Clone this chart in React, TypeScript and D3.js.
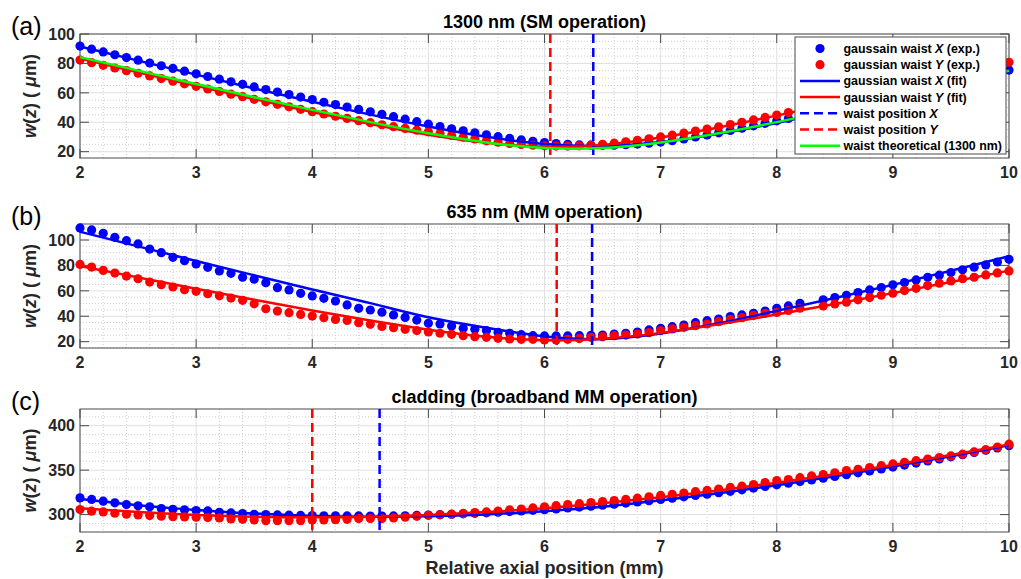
import React from 'react';
import * as d3 from 'd3';

// ---------- data ----------
const zPos = [2.0,2.1,2.2,2.3,2.4,2.5,2.6,2.7,2.8,2.9,3.0,3.1,3.2,3.3,3.4,3.5,3.6,3.7,3.8,3.9,4.0,4.1,4.2,4.3,4.4,4.5,4.6,4.7,4.8,4.9,5.0,5.1,5.2,5.3,5.4,5.5,5.6,5.7,5.8,5.9,6.0,6.1,6.2,6.3,6.4,6.5,6.6,6.7,6.8,6.9,7.0,7.1,7.2,7.3,7.4,7.5,7.6,7.7,7.8,7.9,8.0,8.1,8.2,8.3,8.4,8.5,8.6,8.7,8.8,8.9,9.0,9.1,9.2,9.3,9.4,9.5,9.6,9.7,9.8,9.9,10.0];
const fitZ = [2,2.5,3,3.5,4,4.5,5,5.5,6,6.5,7,7.5,8,8.5,9,9.5,10];

// (a) 1300 nm
const aBlueExp = [91.8,89.7,87.8,85.9,84.0,82.2,80.3,78.4,76.6,74.7,72.9,71.1,69.3,67.5,65.8,64.0,62.2,60.5,58.8,57.1,55.4,53.6,52.0,50.3,48.7,47.1,45.4,43.8,42.1,40.4,38.7,37.1,35.6,34.2,32.8,31.5,30.2,29.0,28.0,27.1,26.2,25.5,25.0,24.6,24.4,24.3,24.4,24.7,25.2,25.8,26.5,27.5,28.7,30.0,31.4,32.8,34.4,36.0,37.6,39.3,41.0,42.6,44.2,45.8,47.5,49.2,50.9,52.6,54.3,56.0,57.8,59.5,61.3,63.0,64.8,66.6,68.4,70.2,71.9,73.7,75.5];
const aRedExp = [82.3,80.5,78.7,76.9,75.1,73.3,71.5,69.7,67.9,66.1,64.4,62.6,60.9,59.1,57.4,55.6,53.9,52.2,50.5,48.8,47.2,45.6,44.1,42.6,41.1,39.7,38.3,37.0,35.8,34.6,33.5,32.3,31.0,29.8,28.6,27.4,26.4,25.6,24.9,24.4,24.0,23.8,23.8,24.0,24.4,25.0,25.8,26.7,27.7,28.8,30.0,31.2,32.6,34.0,35.4,36.9,38.4,40.0,41.6,43.3,44.9,46.6,48.2,49.9,51.7,53.4,55.2,57.0,58.8,60.6,62.4,64.2,66.0,67.8,69.6,71.5,73.2,75.1,76.9,78.7,80.8];
const aBlueFit = [91.5,81.9,72.4,63.0,53.9,45.2,37.1,30.1,25.2,23.85,26.5,32.1,39.5,47.9,56.8,66.0,75.4];
const aRedFit = [83.3,74.0,64.8,55.8,47.0,38.8,31.5,26.0,23.4,24.6,29.6,36.5,44.5,53.1,62.1,71.3,80.6];
const aTheory = [84.3,75.1,66.0,57.0,48.4,40.1,32.5,26.3,22.5,22.5,26.3,32.5,40.1,48.4,57.0,66.0,75.1];

// (b) 635 nm
const bBlueExp = [109.5,107.9,105.3,102.1,99.5,96.9,92.9,90.0,86.4,83.7,81.1,78.5,75.6,73.8,70.7,69.1,66.4,62.5,60.7,58.0,56.0,54.1,52.0,48.9,46.2,44.9,43.2,41.0,39.1,37.0,34.4,33.9,32.3,30.5,29.7,28.7,27.3,26.6,25.5,24.7,24.5,24.5,24.5,24.7,25.0,25.2,26.0,26.6,27.6,29.2,30.5,31.8,33.1,34.9,36.5,37.8,39.7,41.0,42.3,44.1,46.2,48.1,50.2,null,52.9,54.7,56.5,58.6,60.7,62.6,64.7,66.5,68.6,70.7,72.3,74.4,76.5,78.6,80.4,82.7,84.8];
const bRedExp = [80.8,78.7,76.1,74.0,71.6,69.5,66.9,64.8,63.0,60.9,59.6,57.7,56.1,54.3,52.5,49.8,45.9,44.1,42.8,41.4,40.1,38.8,37.5,36.7,34.9,33.6,32.0,31.0,29.7,28.7,27.6,26.6,25.8,24.7,23.9,23.4,22.6,22.1,21.8,21.8,21.3,21.3,21.8,22.4,23.4,23.9,24.7,25.2,26.0,27.1,28.7,30.0,31.3,32.6,33.9,35.7,37.6,38.9,40.7,42.3,43.0,44.5,46.3,null,48.1,49.7,51.0,52.9,54.7,56.5,58.1,60.2,62.0,64.1,66.0,67.8,69.6,70.7,72.5,74.1,75.7];
const bBlueFit = [106.5,95.0,83.5,72.2,61.1,50.3,39.2,30.9,24.1,22.1,26.5,34.5,44.2,54.3,64.7,75.8,87.2];
const bRedFit = [79.5,70.6,61.7,53.0,44.5,36.6,29.4,23.8,21.1,22.3,26.9,33.6,41.3,49.6,58.2,67.0,75.9];

// (c) cladding
const cBlueExp = [318.8,317.0,315.1,313.2,311.3,309.8,308.7,306.8,306.0,305.3,304.5,304.1,302.6,301.9,301.1,300.4,300.0,299.6,299.3,299.0,298.9,298.7,298.6,298.5,298.5,298.4,298.4,298.5,298.7,299.0,299.4,299.9,300.4,300.9,301.4,302.0,302.7,303.4,304.1,304.8,305.5,306.4,307.4,308.4,309.5,310.6,311.7,312.9,314.2,315.6,317.0,318.5,320.0,321.5,323.0,324.6,326.2,327.9,329.8,331.6,333.5,335.3,337.1,339.0,340.9,342.9,344.9,347.0,349.1,351.3,353.5,355.7,358.0,360.3,362.6,365.0,367.4,369.9,372.4,374.9,377.5];
const cRedExp = [305.7,303.8,303.0,301.5,300.4,299.6,298.9,298.1,297.7,297.4,297.0,296.6,296.2,295.1,294.7,294.0,293.2,293.2,293.2,293.2,294.0,294.0,294.3,294.7,295.5,295.5,295.5,296.2,297.0,298.0,299.2,299.8,300.5,301.3,302.2,303.0,304.0,305.2,306.3,307.5,308.8,310.0,311.2,312.3,313.5,314.6,315.8,317.0,318.5,320.0,321.5,322.8,324.2,325.8,327.2,328.8,330.5,332.0,333.8,336.0,338.3,339.5,341.5,343.5,345.0,347.0,349.5,351.0,353.0,355.0,357.0,358.8,360.6,362.4,364.2,366.0,368.0,370.5,373.0,376.0,379.2];
const cBlueFit = [317.5,310.6,305.2,301.1,298.5,297.5,298.0,300.1,303.7,308.7,316.0,324.0,333.0,343.0,354.0,365.5,378.0];
const cRedFit = [307.2,302.8,299.6,297.6,297.0,297.6,299.6,302.8,307.2,312.8,319.4,327.2,335.9,345.5,355.9,367.1,379.0];

const waistX = [6.42, 6.41, 4.58];
const waistY = [6.05, 6.105, 4.0];
const panelTitles = ['1300 nm (SM operation)', '635 nm (MM operation)', 'cladding (broadband MM operation)'];
const panelLetters = ['(a)', '(b)', '(c)'];
const xTicks = [2, 3, 4, 5, 6, 7, 8, 9, 10];
const yTicksA = [20, 40, 60, 80, 100];
const yTicksB = [20, 40, 60, 80, 100];
const yTicksC = [300, 350, 400];
const legendLabels = [
  ['gaussain waist ', 'X', ' (exp.)'],
  ['gaussian waist ', 'Y', ' (exp.)'],
  ['gaussian waist ', 'X', ' (fit)'],
  ['gaussian waist ', 'Y', ' (fit)'],
  ['waist position ', 'X', ''],
  ['waist position ', 'Y', ''],
  ['waist theoretical (1300 nm)', '', ''],
];

// ---------- layout ----------
const W = 1021, H = 579;
const X0 = 80, X1 = 1009;
const FONT = '"Liberation Sans", Arial, Helvetica, sans-serif';
const BLUE = '#0000ff', RED = '#ff0000', GREEN = '#00ff00';
const AX = '#262626';

const panels = [
  { top: 34, bottom: 158, domain: [15.7, 100], ticks: yTicksA, minor: 5, blue: aBlueExp, red: aRedExp, bFit: aBlueFit, rFit: aRedFit, theory: aTheory },
  { top: 224, bottom: 348, domain: [15, 112.6], ticks: yTicksB, minor: 5, blue: bBlueExp, red: bRedExp, bFit: bBlueFit, rFit: bRedFit, theory: null },
  { top: 409, bottom: 532, domain: [280.4, 418.8], ticks: yTicksC, minor: 10, blue: cBlueExp, red: cRedExp, bFit: cBlueFit, rFit: cRedFit, theory: null },
];

const x = d3.scaleLinear().domain([2, 10]).range([X0, X1]);

function Panel({ p, i }: { p: any; i: number }) {
  const y = d3.scaleLinear().domain(p.domain).range([p.bottom, p.top]);
  const line = d3.line<number>().x((_, k) => x(fitZ[k])).y((v) => y(v)).curve(d3.curveNatural);
  const minorX: number[] = [];
  for (let v = 2; v <= 10.0001; v += 0.2) {
    const r = Math.round(v * 10) / 10;
    if (Math.abs(r - Math.round(r)) > 0.01) minorX.push(r);
  }
  const minorY: number[] = [];
  const [d0, d1] = p.domain;
  for (let v = Math.ceil(d0 / p.minor) * p.minor; v <= d1; v += p.minor) {
    if (!p.ticks.includes(v)) minorY.push(v);
  }
  const tl = 9;
  const dotsOf = (vals: (number | null)[], color: string) =>
    vals.map((v, k) => (v == null ? null : <circle key={k} cx={x(zPos[k])} cy={y(v)} r={4.6} fill={color} />));
  return (
    <g>
      {minorX.map((v) => (
        <line key={'mx' + v} x1={x(v)} x2={x(v)} y1={p.top} y2={p.bottom} stroke="#c8c8c8" strokeWidth={0.9} strokeDasharray="1,2" />
      ))}
      {minorY.map((v) => (
        <line key={'my' + v} x1={X0} x2={X1} y1={y(v)} y2={y(v)} stroke="#c8c8c8" strokeWidth={0.9} strokeDasharray="1,2" />
      ))}
      {xTicks.map((v) => (
        <line key={'gx' + v} x1={x(v)} x2={x(v)} y1={p.top} y2={p.bottom} stroke="#e0e0e0" strokeWidth={1} />
      ))}
      {p.ticks.map((v: number) => (
        <line key={'gy' + v} x1={X0} x2={X1} y1={y(v)} y2={y(v)} stroke="#e0e0e0" strokeWidth={1} />
      ))}
      <rect x={X0} y={p.top} width={X1 - X0} height={p.bottom - p.top} fill="none" stroke="#4a4a4a" strokeWidth={1} />
      {xTicks.map((v) => (
        <g key={'tx' + v}>
          <line x1={x(v)} x2={x(v)} y1={p.bottom} y2={p.bottom - tl} stroke="#4a4a4a" />
          <line x1={x(v)} x2={x(v)} y1={p.top} y2={p.top + tl} stroke="#4a4a4a" />
          <text x={x(v)} y={p.bottom + 20} textAnchor="middle" fontSize={16} fontWeight="bold" fill={AX} fontFamily={FONT}>{v}</text>
        </g>
      ))}
      {p.ticks.map((v: number) => (
        <g key={'ty' + v}>
          <line x1={X0} x2={X0 + tl} y1={y(v)} y2={y(v)} stroke="#4a4a4a" />
          <line x1={X1} x2={X1 - tl} y1={y(v)} y2={y(v)} stroke="#4a4a4a" />
          <text x={X0 - 5} y={y(v)} dy="0.36em" textAnchor="end" fontSize={16} fontWeight="bold" fill={AX} fontFamily={FONT}>{v}</text>
        </g>
      ))}
      {dotsOf(p.blue, BLUE)}
      {dotsOf(p.red, RED)}
      <path d={line(p.bFit) || ''} fill="none" stroke={BLUE} strokeWidth={2.5} />
      <path d={line(p.rFit) || ''} fill="none" stroke={RED} strokeWidth={2.5} />
      <line x1={x(waistX[i])} x2={x(waistX[i])} y1={p.top} y2={p.bottom} stroke={BLUE} strokeWidth={2.5} strokeDasharray="9,5" />
      <line x1={x(waistY[i])} x2={x(waistY[i])} y1={p.top} y2={p.bottom} stroke={RED} strokeWidth={2.5} strokeDasharray="9,5" />
      {p.theory && <path d={line(p.theory) || ''} fill="none" stroke={GREEN} strokeWidth={2.5} />}
      <text x={(X0 + X1) / 2} y={p.top - 6.5} textAnchor="middle" fontSize={18} fontWeight="bold" fill="#000" fontFamily={FONT}>{panelTitles[i]}</text>
      <text x={11} y={p.top + 1} fontSize={25} fill="#000" fontFamily={FONT}>{panelLetters[i]}</text>
      <text transform={`translate(36,${(p.top + p.bottom) / 2}) rotate(-90)`} textAnchor="middle" fontSize={18} fontWeight="bold" fill={AX} fontFamily={FONT}>
        <tspan fontStyle="italic">w</tspan>(<tspan fontStyle="italic">z</tspan>) (<tspan fontStyle="italic"> μ</tspan>m)
      </text>
    </g>
  );
}

function Legend() {
  const lx = 795, ly = 37, lw = 211, lh = 117;
  return (
    <g>
      <rect x={lx} y={ly} width={lw} height={lh} fill="#fff" stroke="#4a4a4a" strokeWidth={1} />
      {legendLabels.map((lab, k) => {
        const cy = ly + 11.5 + k * 16.2;
        let sym: React.ReactNode = null;
        if (k === 0) sym = <circle cx={820} cy={cy} r={4.6} fill={BLUE} />;
        if (k === 1) sym = <circle cx={820} cy={cy} r={4.6} fill={RED} />;
        if (k === 2) sym = <line x1={800} x2={840} y1={cy} y2={cy} stroke={BLUE} strokeWidth={2.5} />;
        if (k === 3) sym = <line x1={800} x2={840} y1={cy} y2={cy} stroke={RED} strokeWidth={2.5} />;
        if (k === 4) sym = <line x1={800} x2={840} y1={cy} y2={cy} stroke={BLUE} strokeWidth={2.5} strokeDasharray="9,5" />;
        if (k === 5) sym = <line x1={800} x2={840} y1={cy} y2={cy} stroke={RED} strokeWidth={2.5} strokeDasharray="9,5" />;
        if (k === 6) sym = <line x1={800} x2={840} y1={cy} y2={cy} stroke={GREEN} strokeWidth={2.5} />;
        return (
          <g key={k}>
            {sym}
            <text x={843.5} y={cy} dy="0.36em" fontSize={12.4} fontWeight="bold" fill="#000" fontFamily={FONT}>
              {lab[0]}<tspan fontStyle="italic">{lab[1]}</tspan>{lab[2]}
            </text>
          </g>
        );
      })}
    </g>
  );
}

export default function App() {
  return (
    <svg width={W} height={H} style={{ position: 'absolute', left: 0, top: 0, background: '#fff' }}>
      <rect x={0} y={0} width={W} height={H} fill="#fff" />
      {panels.map((p, i) => (
        <Panel key={i} p={p} i={i} />
      ))}
      <Legend />
      <text x={(X0 + X1) / 2} y={574} textAnchor="middle" fontSize={18} fontWeight="bold" fill={AX} fontFamily={FONT}>Relative axial position (mm)</text>
    </svg>
  );
}
